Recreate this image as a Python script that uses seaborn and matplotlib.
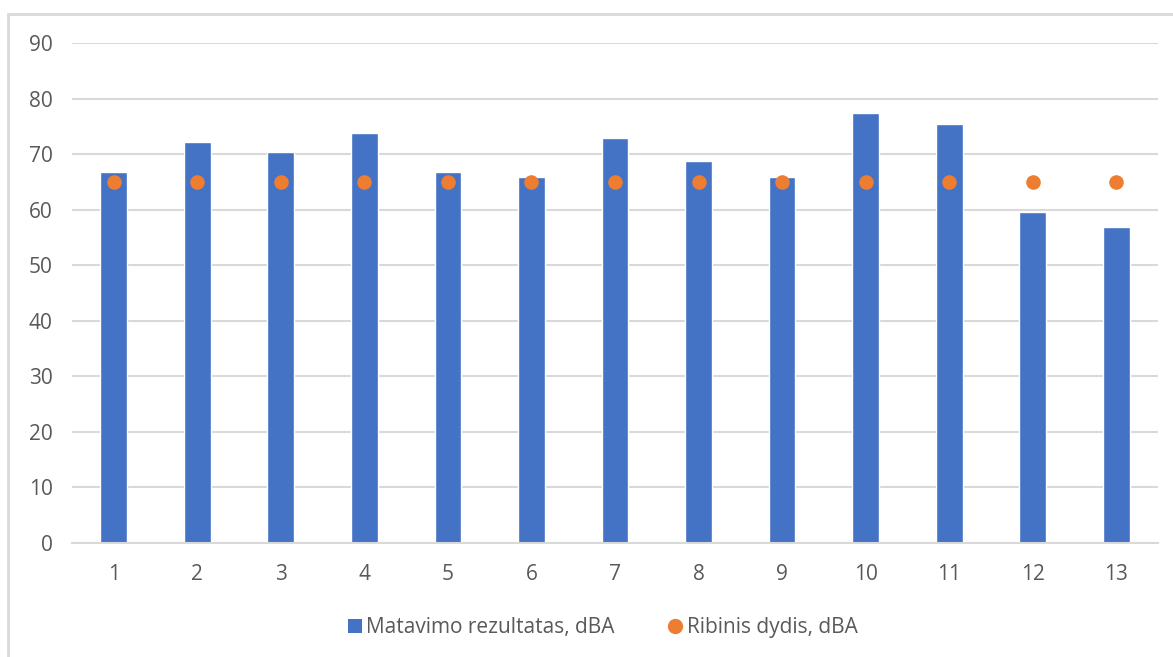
import matplotlib
matplotlib.use("Agg")
import matplotlib.pyplot as plt
from matplotlib.patches import Rectangle
from matplotlib.lines import Line2D
import seaborn as sns
import pandas as pd

# Measurement points, measured noise level and the limit value
points = ["1", "2", "3", "4", "5", "6", "7", "8", "9", "10", "11", "12", "13"]
measured_dba = [66.8, 72.2, 70.4, 73.8, 66.8, 65.9, 72.9, 68.8, 65.9, 77.4, 75.4, 59.5, 56.8]
limit_dba = [65, 65, 65, 65, 65, 65, 65, 65, 65, 65, 65, 65, 65]
y_ticks = [0, 10, 20, 30, 40, 50, 60, 70, 80, 90]

bar_label = "Matavimo rezultatas, dBA"
dot_label = "Ribinis dydis, dBA"

BLUE = "#4472C4"
ORANGE = "#ED7D31"
GRID = "#D9D9D9"
TEXT = "#595959"

sns.set_theme(style="white")
plt.rcParams["font.family"] = ["Open Sans", "DejaVu Sans"]

df = pd.DataFrame({"point": points, "measured": measured_dba, "limit": limit_dba})

fig = plt.figure(figsize=(11.73, 6.57), dpi=100)
ax = fig.add_axes([72 / 1173, 1 - 543 / 657, (1158 - 72) / 1173, 500 / 657])

sns.barplot(data=df, x="point", y="measured", order=points, color=BLUE,
            width=0.32, saturation=1, ax=ax, zorder=2)
sns.stripplot(data=df, x="point", y="limit", order=points, color=ORANGE,
              jitter=False, size=10.5, linewidth=0, ax=ax, zorder=3)

ax.set_ylim(0, 90)
ax.set_yticks(y_ticks)
ax.set_xlim(-0.5, len(points) - 0.5)
ax.set_xlabel("")
ax.set_ylabel("")
ax.yaxis.grid(True, color=GRID, linewidth=1.5, zorder=0)
ax.set_axisbelow(True)
for side in ["left", "right", "top"]:
    ax.spines[side].set_visible(False)
ax.spines["bottom"].set_color(GRID)
ax.spines["bottom"].set_linewidth(1.5)
ax.tick_params(axis="both", length=0, labelsize=15, labelcolor=TEXT)
ax.tick_params(axis="y", pad=14)
ax.tick_params(axis="x", pad=15)

handles = [
    Line2D([0], [0], marker="s", linestyle="none", markersize=10.5,
           markerfacecolor=BLUE, markeredgewidth=0),
    Line2D([0], [0], marker="o", linestyle="none", markersize=11,
           markerfacecolor=ORANGE, markeredgewidth=0),
]
fig.legend(handles, [bar_label, dot_label], loc="center",
           bbox_to_anchor=(601 / 1173, 1 - 628 / 657), ncol=2, frameon=False,
           fontsize=15, labelcolor=TEXT, handletextpad=0.05,
           columnspacing=2.4, handlelength=1.0)

# Chart-area frame
fig.patches.append(Rectangle((8 / 1173, -0.2), 1.5, 1.2 - 14 / 657,
                             transform=fig.transFigure, fill=False,
                             edgecolor=GRID, linewidth=2, clip_on=False))

fig.savefig("out.png", dpi=100, facecolor="white")
